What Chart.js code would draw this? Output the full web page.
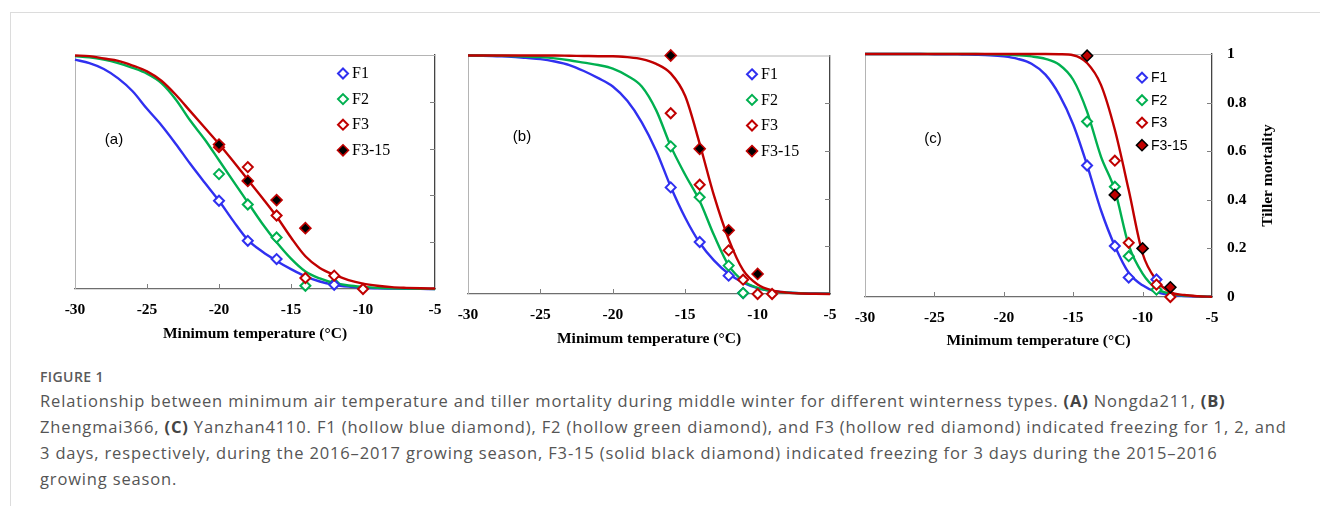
<!DOCTYPE html>
<html lang="en">
<head>
<meta charset="UTF-8">
<title>Figure 1 - tiller mortality</title>
<script src="https://cdn.jsdelivr.net/npm/chart.js"></script>
<style>
  body { margin: 0; background: #fff; width: 1320px; height: 506px; overflow: hidden; position: relative; }
  #frame { position: absolute; left: 10px; top: 12px; right: 0; bottom: 0; border-top: 1px solid #dcdcdc; border-left: 1px solid #dcdcdc; }
  canvas { position: absolute; }
  #caption { position: absolute; left: 40px; top: 366px; font-family: "Open Sans", sans-serif; color: #555; white-space: nowrap; }
  #caption .fig { font-size: 14px; font-weight: 600; line-height: 22px; color: #5a5a5a; letter-spacing: 0.4px; }
  #caption .txt { font-size: 16.5px; line-height: 26px; letter-spacing: 0.85px; }
  #caption b { font-weight: 700; color: #444; }
</style>
</head>
<body>
<div id="frame"></div>
<canvas id="ca" width="420" height="309" style="left:40px;top:40px"></canvas>
<canvas id="cb" width="420" height="314" style="left:440px;top:40px"></canvas>
<canvas id="cc" width="460" height="316" style="left:840px;top:40px"></canvas>
<div id="caption">
  <div class="fig">FIGURE 1</div>
  <div class="txt">Relationship between minimum air temperature and tiller mortality during middle winter for different winterness types. <b>(A)</b> Nongda211, <b>(B)</b><br>Zhengmai366, <b>(C)</b> Yanzhan4110. F1 (hollow blue diamond), F2 (hollow green diamond), and F3 (hollow red diamond) indicated freezing for 1, 2, and<br>3 days, respectively, during the 2016–2017 growing season, F3-15 (solid black diamond) indicated freezing for 3 days during the 2015–2016<br>growing season.</div>
</div>
<script>
// fitted curves, read every 1 °C from -30 to -5
const curveT = [-30,-29,-28,-27,-26,-25,-24,-23,-22,-21,-20,-19,-18,-17,-16,-15,-14,-13,-12,-11,-10,-9,-8,-7,-6,-5];

const aCurveF1 = [0.98,0.965,0.94,0.90,0.845,0.77,0.70,0.62,0.535,0.455,0.377,0.29,0.21,0.16,0.12,0.085,0.054,0.032,0.018,0.01,0.005,0.003,0.002,0.001,0.0005,0];
const aCurveF2 = [0.995,0.99,0.98,0.965,0.945,0.92,0.88,0.81,0.72,0.64,0.55,0.46,0.37,0.28,0.20,0.13,0.075,0.045,0.026,0.015,0.009,0.005,0.003,0.002,0.001,0];
const aCurveF3 = [0.998,0.995,0.985,0.975,0.955,0.93,0.89,0.83,0.76,0.69,0.62,0.545,0.467,0.39,0.31,0.22,0.14,0.09,0.061,0.038,0.023,0.014,0.008,0.005,0.003,0.002];

const bCurveF1 = [1,0.999,0.997,0.995,0.99,0.985,0.975,0.96,0.935,0.905,0.87,0.81,0.72,0.60,0.45,0.32,0.215,0.14,0.085,0.048,0.025,0.013,0.007,0.003,0.002,0.001];
const bCurveF2 = [1,1,0.999,0.998,0.996,0.993,0.988,0.98,0.97,0.96,0.945,0.915,0.87,0.77,0.62,0.50,0.39,0.245,0.12,0.055,0.026,0.012,0.006,0.003,0.001,0.001];
const bCurveF3 = [1,1,1,1,1,1,1,0.999,0.998,0.997,0.997,0.993,0.985,0.965,0.925,0.83,0.63,0.41,0.23,0.10,0.04,0.015,0.006,0.002,0.001,0];

const cCurveF1 = [1,1,1,1,1,0.999,0.999,0.998,0.997,0.995,0.99,0.98,0.96,0.915,0.832,0.71,0.543,0.357,0.21,0.10,0.048,0.02,0.008,0.004,0.002,0.001];
const cCurveF2 = [1,1,1,1,1,1,1,1,1,0.999,0.998,0.995,0.99,0.98,0.956,0.894,0.763,0.578,0.44,0.213,0.096,0.034,0.014,0.006,0.003,0.001];
const cCurveF3 = [1,1,1,1,1,1,1,1,1,1,1,1,1,1,0.999,0.995,0.963,0.873,0.688,0.44,0.179,0.069,0.02,0.008,0.003,0.001];

// observed points
const aF1T = [-20,-18,-16,-12],          aF1 = [0.377,0.206,0.128,0.018];
const aF2T = [-20,-18,-16,-14,-12],      aF2 = [0.491,0.361,0.220,0.014,0.024];
const aF3T = [-20,-18,-16,-14,-12,-10],  aF3 = [0.606,0.521,0.314,0.047,0.057,0];
const aF315T = [-20,-18,-16,-14],        aF315 = [0.617,0.462,0.380,0.260];

const bF1T = [-16,-14,-12,-11],          bF1 = [0.447,0.218,0.077,0.004];
const bF2T = [-16,-14,-12,-11],          bF2 = [0.619,0.406,0.119,0.004];
const bF3T = [-16,-14,-12,-11,-10,-9],   bF3 = [0.758,0.458,0.183,0.06,0,0];
const bF315T = [-16,-14,-12,-10],        bF315 = [1.0,0.609,0.267,0.084];

const cF1T = [-14,-12,-11,-9],           cF1 = [0.541,0.21,0.08,0.072];
const cF2T = [-14,-12,-11,-9],           cF2 = [0.722,0.454,0.168,0.03];
const cF3T = [-12,-11,-9,-8],            cF3 = [0.561,0.223,0.051,0];
const cF315T = [-14,-12,-10,-8],         cF315 = [0.993,0.42,0.2,0.04];

const xTicks = [-30,-25,-20,-15,-10,-5];
const yTicks = [0,0.2,0.4,0.6,0.8,1];
const legendLabels = ['F1','F2','F3','F3-15'];

const BLUE = '#3030f0', GREEN = '#00b050', RED = '#c00000';

function pts(t, v) { return t.map((x, i) => ({x: x, y: v[i]})); }

function hollow(label, t, v, color) {
  return { label: label, data: pts(t, v), pointStyle: 'rectRot', pointRadius: 5,
    pointBackgroundColor: '#fff', pointBorderColor: color, pointBorderWidth: 2, clip: false };
}
function solid(label, t, v, fill, edge) {
  return { label: label, data: pts(t, v), pointStyle: 'rectRot', pointRadius: 5.5,
    pointBackgroundColor: fill, pointBorderColor: edge, pointBorderWidth: 1.6, clip: false };
}
function curve(v, color) {
  return { data: pts(curveT, v), showLine: true, borderColor: color, borderWidth: 2.4,
    pointRadius: 0, cubicInterpolationMode: 'monotone', fill: false, clip: false };
}

// draws plot frame, inward tick marks, legend, panel tag, right axis title
const deco = {
  id: 'deco',
  beforeDatasetsDraw(chart, args, o) {
    const {ctx, chartArea: a} = chart;
    const sx = chart.scales.x, sy = chart.scales.y;
    ctx.save();
    ctx.lineWidth = 1;
    ctx.strokeStyle = '#b4b4b4';
    ctx.beginPath();
    ctx.moveTo(a.left + 0.5, a.bottom);
    ctx.lineTo(a.left + 0.5, a.top + 0.5);
    ctx.lineTo(a.right, a.top + 0.5);
    ctx.stroke();
    ctx.strokeStyle = '#808080';
    ctx.beginPath();
    xTicks.slice(1, -1).forEach(v => {
      const p = Math.round(sx.getPixelForValue(v)) + 0.5;
      ctx.moveTo(p, a.bottom); ctx.lineTo(p, a.bottom - 5);
    });
    yTicks.slice(1, -1).forEach(v => {
      const p = Math.round(sy.getPixelForValue(v)) + 0.5;
      ctx.moveTo(a.right, p); ctx.lineTo(a.right - 5, p);
    });
    ctx.stroke();
    ctx.restore();
  },
  afterDraw(chart, args, o) {
    const {ctx, chartArea: a} = chart;
    ctx.save();
    // legend
    const lg = o.legend;
    ctx.font = lg.font;
    ctx.textBaseline = 'middle';
    ctx.textAlign = 'left';
    legendLabels.forEach((lab, i) => {
      const ds = chart.data.datasets.find(d => d.label === lab);
      const x = a.left + lg.dx, y = a.top + lg.dy + i * lg.step;
      const r = ds.pointRadius;
      ctx.beginPath();
      ctx.moveTo(x, y - r); ctx.lineTo(x + r, y); ctx.lineTo(x, y + r); ctx.lineTo(x - r, y);
      ctx.closePath();
      ctx.fillStyle = ds.pointBackgroundColor;
      ctx.fill();
      ctx.lineWidth = ds.pointBorderWidth;
      ctx.strokeStyle = ds.pointBorderColor;
      ctx.stroke();
      ctx.fillStyle = '#000';
      ctx.fillText(lab, x + lg.gap, y + 0.5);
    });
    // panel tag
    ctx.font = '15px "Liberation Sans", Arial, sans-serif';
    ctx.textAlign = 'center';
    ctx.fillStyle = '#000';
    ctx.fillText(o.tag, a.left + o.tagX, a.top + o.tagY);
    // right axis title (reads bottom to top)
    if (o.yTitle) {
      ctx.translate(o.yTitle.x, (a.top + a.bottom) / 2);
      ctx.rotate(-Math.PI / 2);
      ctx.font = 'bold 15.5px "Liberation Serif", "Times New Roman", serif';
      ctx.textAlign = 'center';
      ctx.fillText(o.yTitle.text, 0, 0);
    }
    ctx.restore();
  }
};

function makeChart(id, sets, pad, xH, yW, showY, decoOpts) {
  const serifBold = { family: '"Liberation Serif", "Times New Roman", serif', weight: 'bold', size: 15.5 };
  return new Chart(document.getElementById(id), {
    type: 'scatter',
    data: { datasets: sets },
    options: {
      responsive: false,
      animation: false,
      events: [],
      layout: { padding: pad },
      plugins: { legend: { display: false }, tooltip: { enabled: false }, deco: decoOpts },
      scales: {
        x: {
          type: 'linear', min: -30, max: -5,
          afterBuildTicks: s => { s.ticks = xTicks.map(v => ({ value: v })); },
          afterFit: s => { s.height = xH; },
          grid: { display: false },
          border: { display: true, color: '#6e6e6e', width: 1.3 },
          ticks: { color: '#000', font: serifBold, padding: 4, maxRotation: 0 },
          title: { display: true, text: 'Minimum temperature (°C)', color: '#000', font: serifBold, padding: { top: 0, bottom: 6 } }
        },
        y: {
          type: 'linear', position: 'right', min: 0, max: 1,
          afterBuildTicks: s => { s.ticks = yTicks.map(v => ({ value: v })); },
          afterFit: s => { s.width = yW; },
          grid: { display: showY, drawOnChartArea: false, drawTicks: true, tickLength: 15, color: 'rgba(0,0,0,0)' },
          border: { display: true, color: '#444', width: 1.3 },
          ticks: { display: showY, color: '#000', font: serifBold, padding: 0,
                   callback: v => String(+v.toFixed(1)) }
        }
      }
    },
    plugins: [deco]
  });
}

const serifLegend = '16px "Liberation Serif", "Times New Roman", serif';

makeChart('ca', [
  solid('F3-15', aF315T, aF315, '#000', RED),
  hollow('F3', aF3T, aF3, RED),
  hollow('F1', aF1T, aF1, BLUE),
  hollow('F2', aF2T, aF2, GREEN),
  curve(aCurveF3, RED), curve(aCurveF2, GREEN), curve(aCurveF1, BLUE)
], { left: 35, top: 15, right: 25, bottom: 0 }, 60, 0, false,
  { legend: { dx: 268, dy: 18.5, step: 25.6, gap: 9, font: serifLegend }, tag: '(a)', tagX: 39, tagY: 85 });

makeChart('cb', [
  solid('F3-15', bF315T, bF315, '#000', RED),
  hollow('F3', bF3T, bF3, RED),
  hollow('F2', bF2T, bF2, GREEN),
  hollow('F1', bF1T, bF1, BLUE),
  curve(bCurveF3, RED), curve(bCurveF2, GREEN), curve(bCurveF1, BLUE)
], { left: 28, top: 15.5, right: 30, bottom: 0 }, 60, 0, false,
  { legend: { dx: 284, dy: 18.8, step: 25.6, gap: 9, font: serifLegend }, tag: '(b)', tagX: 54, tagY: 81.5 });

makeChart('cc', [
  solid('F3-15', cF315T, cF315, RED, '#000'),
  hollow('F3', cF3T, cF3, RED),
  hollow('F2', cF2T, cF2, GREEN),
  hollow('F1', cF1T, cF1, BLUE),
  curve(cCurveF3, RED), curve(cCurveF2, GREEN), curve(cCurveF1, BLUE)
], { left: 25, top: 14, right: 0, bottom: 0 }, 59, 88, true,
  { legend: { dx: 277, dy: 23.7, step: 22.5, gap: 9, font: '14px "Liberation Sans", Arial, sans-serif' },
    tag: '(c)', tagX: 68, tagY: 85, yTitle: { x: 428, text: 'Tiller mortality' } });
</script>
</body>
</html>
